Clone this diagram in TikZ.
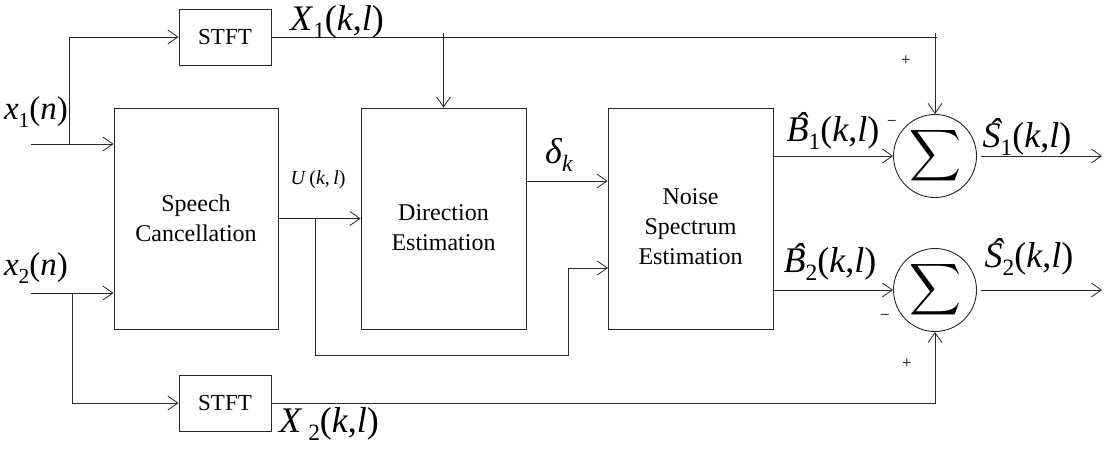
\documentclass[tikz,border=0pt]{standalone}
\usepackage{fontspec}
\setmainfont{Liberation Serif}
\usepackage{graphicx}
\usetikzlibrary{arrows.meta}
\newcommand\mysub[1]{\raisebox{-0.22em}{\fontsize{0.65em}{0.7em}\selectfont #1}}
\newcommand\hatit[1]{\leavevmode\setbox0\hbox{\textit{#1}}\rlap{\hbox to \wd0{\hss\kern0.22em\raisebox{0.1em}{\textit{\char"02C6}}\hss}}\box0}
\begin{document}
\begin{tikzpicture}[x=1pt,y=-1pt,line width=0.9pt,draw=black!85,
  box/.style={draw,rectangle,inner sep=0pt},
  ar/.style={-{Straight Barb[length=10pt,width=14pt,line width=0.8pt]}},
  lbl/.style={font=\fontsize{24}{30}\selectfont,align=center,inner sep=0pt},
  stfttxt/.style={font=\fontsize{23}{28}\selectfont},
  big/.style={font=\fontsize{36}{40}\selectfont,inner sep=0pt},
  mid/.style={font=\fontsize{33}{36}\selectfont,inner sep=0pt},
  sml/.style={font=\fontsize{20}{24}\selectfont,inner sep=0pt},
  sgn/.style={font=\fontsize{17}{20}\selectfont,inner sep=0pt},
  sumc/.style={draw,circle,minimum size=83pt,inner sep=0pt}]
\useasboundingbox (0,0) rectangle (1105,450);
% blocks
\node[box,minimum width=92pt,minimum height=56pt,stfttxt] (stft1) at (225,37) {STFT};
\node[box,minimum width=92pt,minimum height=56pt,stfttxt] (stft2) at (225,403) {STFT};
\node[box,minimum width=164pt,minimum height=221pt] (sc) at (196,218.5) {};
\node[lbl] (sctext) at (196,218) {Speech\\Cancellation};
\node[box,minimum width=165pt,minimum height=221pt] (de) at (443.5,218.5) {};
\node[lbl] (detext) at (443.5,228) {Direction\\Estimation};
\node[box,minimum width=165pt,minimum height=221pt] (ne) at (690.5,218.5) {};
\node[lbl] (netext) at (690.5,227) {Noise\\Spectrum\\Estimation};
\node[sumc] (s1) at (935,156) {\scalebox{3.6}{$\displaystyle\sum$}};
\node[sumc] (s2) at (935,290) {\scalebox{3.6}{$\displaystyle\sum$}};
% coordinates
\coordinate (in1) at (31,144);
\coordinate (in2) at (31,293);
\coordinate (b1) at (69,144);
\coordinate (b2) at (72,293);
\coordinate (t1) at (937,37);
\coordinate (t1top) at (935,33);
\coordinate (t2) at (443.5,33);
\coordinate (ub) at (315,218.5);
\coordinate (uc) at (568,355);
\coordinate (n2) at (608,268);
\coordinate (dout) at (526,181);
\coordinate (o1) at (1102,156);
\coordinate (o2) at (1102,290);
% connectors
\draw[ar] (in1) -- (sc.west |- in1);
\draw[ar] (b1) |- (stft1.west);
\draw[ar] (in2) -- (sc.west |- in2);
\draw[ar] (b2) |- (stft2.west);
\draw (stft1.east) -- (t1);
\draw[ar] (t1top) -- (s1.north);
\draw[ar] (t2) -- (de.north);
\draw[ar] (sc.east) -- (de.west);
\draw[ar] (ub) |- (uc) |- (n2);
\draw[ar] (dout) -- (dout -| ne.west);
\draw[ar] (ne.east |- s1.west) -- (s1.west);
\draw[ar] (ne.east |- s2.west) -- (s2.west);
\draw[ar] ([xshift=4pt]s1.east) -- (o1);
\draw[ar] ([xshift=4pt]s2.east) -- (o2);
\draw[ar] (stft2.east) -| (s2.south);
% labels
\node[mid] (lx1) at (36,112) {\textit{x}\mysub{1}(\textit{n})};
\node[mid] (lx2) at (36,268) {\textit{x}\mysub{2}(\textit{n})};
\node[big] (lX1) at (337,22) {\textit{X}\mysub{1}(\textit{k},\textit{l})};
\node[big] (lX2) at (329,424) {\textit{X}\,\mysub{2}(\textit{k},\textit{l})};
\node[sml] (lU) at (318,180) {\textit{U}\,(\textit{k},\,\textit{l})};
\node[big] (ld) at (559,155) {\textit{δ}\mysub{\textit{k}}};
\node[big] (lB1) at (833,131) {\hatit{B}\mysub{1}(\textit{k},\textit{l})};
\node[big] (lB2) at (830,262) {\hatit{B}\mysub{2}(\textit{k},\textit{l})};
\node[big] (lS1) at (1027,137) {\hatit{S}\mysub{1}(\textit{k},\textit{l})};
\node[big] (lS2) at (1029,257) {\hatit{S}\mysub{2}(\textit{k},\textit{l})};
\node[sgn] (m1) at (892,123) {\textminus};
\node[sgn] (p1) at (906,61) {+};
\node[sgn] (m2) at (885,317) {\textminus};
\node[sgn] (p2) at (907,364) {+};
\end{tikzpicture}
\end{document}
